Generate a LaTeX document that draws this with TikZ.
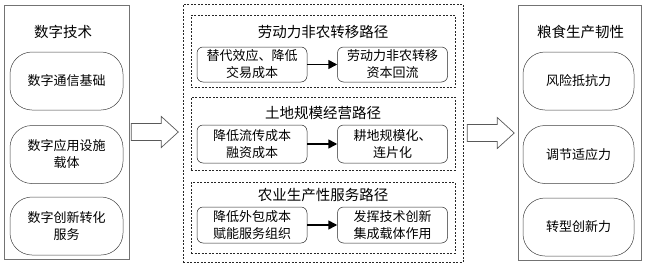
\documentclass[tikz,border=0pt]{standalone}
\usepackage{fontspec}
\setmainfont{Noto Sans CJK SC}
\usetikzlibrary{arrows.meta,positioning,calc}
\newcommand{\blockarrow}[1]{%
  \draw[blockarr] #1 ++(0,-8.5) -- ++(30,0) -- ++(0,-7) -- ++(17,15.5)
    -- ++(-17,15.5) -- ++(0,-7) -- ++(-30,0) -- cycle;}

\begin{document}
\begin{tikzpicture}[
  x=1pt,y=-1pt,
  font=\fontsize{13}{17}\selectfont,
  side/.style={draw=black!55,line width=0.6pt,minimum width=125pt,minimum height=254pt,inner sep=0pt},
  pill/.style={draw=black!75,line width=0.5pt,rounded corners=22pt,minimum width=113pt,
    minimum height=58pt,align=center,inner sep=1pt},
  lane/.style={draw=black!85,line width=0.5pt,dash pattern=on 2pt off 1.5pt,minimum width=264pt,
    minimum height=72pt,inner sep=0pt},
  stepbox/.style={draw=black!85,line width=0.5pt,rounded corners=6pt,minimum width=110pt,
    minimum height=36pt,align=center,inner sep=1pt},
  title/.style={inner sep=0pt,font=\fontsize{14.5}{17}\selectfont},
  arr/.style={-{Triangle[length=9pt,width=9pt]},line width=1.6pt},
  blockarr/.style={draw=black!65,line width=0.7pt,fill=white},
]
\useasboundingbox (0,0) rectangle (650,268);
% digital technology
\node[side] (lt) at (66.5,132) {};
\node[title] (lthead) at (63,32) {数字技术};
\node[pill] (lt1) at (66.5,81) {数字通信基础};
\node[pill,below=15pt of lt1] (lt2) {数字应用设施\\载体};
\node[pill,below=13pt of lt2] (lt3) {数字创新转化\\服务};
% paths
\node[lane,minimum width=280pt,minimum height=258pt] (mid) at (323,133) {};
\node[lane] (ln1) at (323,51) {};
\node[lane,minimum height=73pt] (ln2) at (323,133.5) {};
\node[lane,minimum height=71pt] (ln3) at (323,217.5) {};
\node[title] (ln1head) at (323,32) {劳动力非农转移路径};
\node[title] (ln2head) at (323,113) {土地规模经营路径};
\node[title] (ln3head) at (323,195) {农业生产性服务路径};
\node[stepbox,minimum height=35pt] (a1) at (252,64.5) {替代效应、降低\\交易成本};
\node[stepbox,minimum height=35pt,right=30pt of a1] (a2) {劳动力非农转移\\资本回流};
\node[stepbox,minimum height=38pt] (b1) at (252,144) {降低流传成本\\融资成本};
\node[stepbox,minimum height=38pt,right=30pt of b1] (b2) {耕地规模化、\\连片化};
\node[stepbox] (c1) at (252,225) {降低外包成本\\赋能服务组织};
\node[stepbox,right=30pt of c1] (c2) {发挥技术创新\\集成载体作用};
\draw[arr] (a1) -- (a2);
\draw[arr] (b1) -- (b2);
\draw[arr] (c1) -- (c2);
% grain production resilience
\node[side,minimum width=123pt,minimum height=255pt] (rt) at (579.5,132.5) {};
\node[title] (rthead) at (580.5,32) {粮食生产韧性};
\node[pill,minimum width=111pt] (rt1) at (578.5,81) {风险抵抗力};
\node[pill,minimum width=111pt,below=15pt of rt1] (rt2) {调节适应力};
\node[pill,minimum width=111pt,below=14pt of rt2] (rt3) {转型创新力};
% block arrows
\blockarrow{($(lt.east)+(2,0)$)}
\blockarrow{($(mid.east)+(4,0)$)}
\end{tikzpicture}
\end{document}
